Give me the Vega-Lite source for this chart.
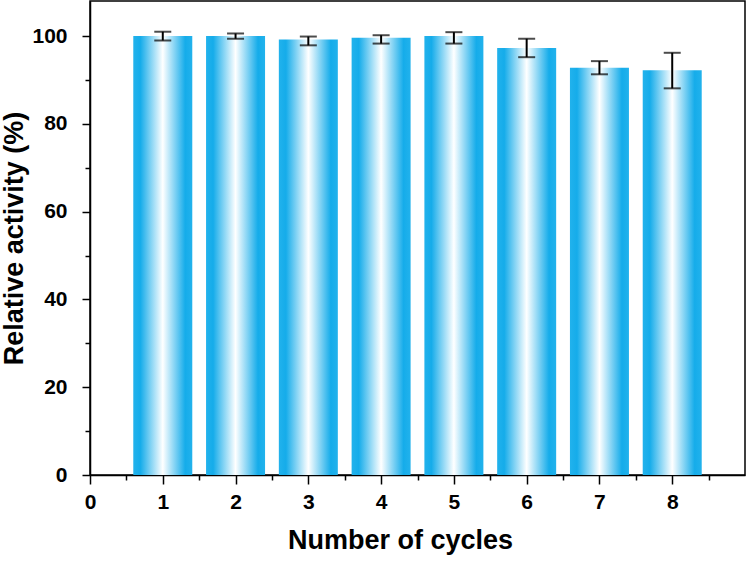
{
  "$schema": "https://vega.github.io/schema/vega-lite/v6.json",
  "autosize": {"type": "none"},
  "padding": {"left": 90, "top": 1, "right": 4, "bottom": 87},
  "width": 655,
  "height": 474,
  "background": "white",
  "config": {
    "view": {"stroke": "black", "strokeWidth": 1.5},
    "font": "Liberation Sans",
    "axis": {
      "labelFont": "Liberation Sans",
      "labelFontWeight": "bold",
      "labelFontSize": 21,
      "labelColor": "black",
      "titleFont": "Liberation Sans",
      "titleFontWeight": "bold",
      "titleColor": "black",
      "domainColor": "black",
      "domainWidth": 1.5,
      "tickColor": "black",
      "tickWidth": 1.5,
      "grid": false
    }
  },
  "data": {
    "values": [
      {"cycle": 1, "activity": 100.0, "low": 99.0, "high": 101.0},
      {"cycle": 2, "activity": 100.0, "low": 99.4, "high": 100.6},
      {"cycle": 3, "activity": 99.2, "low": 97.9, "high": 99.9},
      {"cycle": 4, "activity": 99.6, "low": 98.3, "high": 100.2},
      {"cycle": 5, "activity": 100.0, "low": 98.3, "high": 100.9},
      {"cycle": 6, "activity": 97.3, "low": 95.2, "high": 99.4},
      {"cycle": 7, "activity": 92.8, "low": 91.3, "high": 94.3},
      {"cycle": 8, "activity": 92.2, "low": 88.1, "high": 96.2}
    ]
  },
  "resolve": {"axis": {"x": "independent", "y": "independent"}},
  "layer": [
    {
      "mark": {
        "type": "bar",
        "width": 59,
        "color": {
          "gradient": "linear",
          "x1": 0, "y1": 0, "x2": 1, "y2": 0,
          "stops": [
            {"offset": 0, "color": "#22B2EC"},
            {"offset": 0.12, "color": "#15ACEA"},
            {"offset": 0.5, "color": "#FFFFFF"},
            {"offset": 0.88, "color": "#15ACEA"},
            {"offset": 1, "color": "#22B2EC"}
          ]
        }
      },
      "encoding": {
        "x": {
          "field": "cycle", "type": "quantitative",
          "scale": {"domain": [0, 9], "nice": false, "zero": false, "padding": 0},
          "axis": {
            "orient": "bottom",
            "values": [0, 1, 2, 3, 4, 5, 6, 7, 8],
            "title": "Number of cycles",
            "titleFontSize": 27,
            "titlePadding": 15,
            "titleX": 310,
            "tickSize": 9,
            "labelPadding": 7,
            "labelFlush": false
          }
        },
        "y": {
          "field": "activity", "type": "quantitative",
          "scale": {"domain": [0, 108], "nice": false, "padding": 0},
          "axis": {
            "orient": "left",
            "values": [0, 20, 40, 60, 80, 100],
            "title": "Relative activity (%)",
            "titleFontSize": 27,
            "titlePadding": 3,
            "tickSize": 8,
            "labelPadding": 15,
            "labelFlush": false
          }
        }
      }
    },
    {
      "mark": {"type": "errorbar", "ticks": {"size": 17, "thickness": 2, "color": "black"}, "rule": {"strokeWidth": 2, "color": "black"}},
      "encoding": {
        "x": {
          "field": "cycle", "type": "quantitative",
          "axis": {
            "orient": "bottom",
            "values": [0.5, 1.5, 2.5, 3.5, 4.5, 5.5, 6.5, 7.5, 8.5],
            "labels": false, "domain": false, "title": null, "tickSize": 5
          }
        },
        "y": {
          "field": "low", "type": "quantitative",
          "axis": {
            "orient": "left",
            "values": [10, 30, 50, 70, 90],
            "labels": false, "domain": false, "title": null, "tickSize": 5
          }
        },
        "y2": {"field": "high"}
      }
    }
  ]
}
